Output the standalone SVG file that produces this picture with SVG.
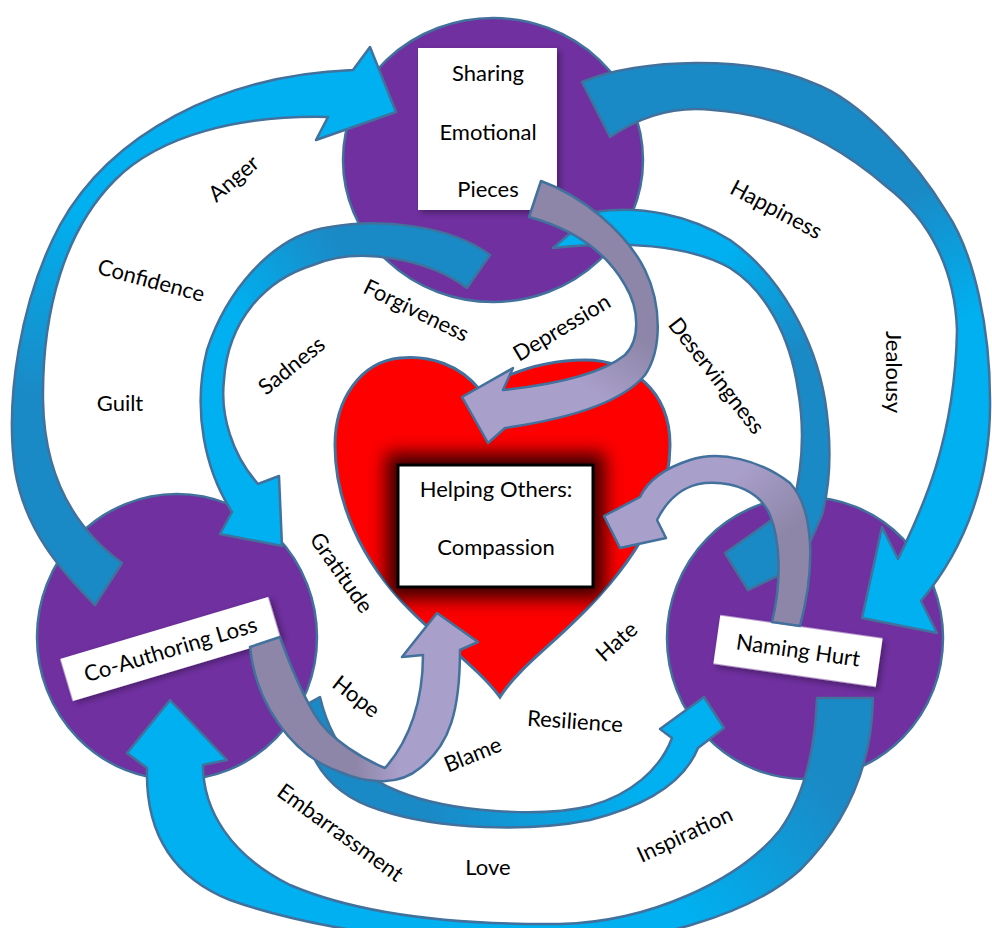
<svg xmlns="http://www.w3.org/2000/svg" width="992" height="928" viewBox="0 0 992 928">
  <defs>
    <style>
      .circ { fill: #7030A0; stroke: #41719C; stroke-width: 2.5; }
      .arw { stroke: #41719C; stroke-width: 2.5; stroke-linejoin: round; }
      .card { fill: #ffffff; }
      .t { font-family: Lato, "Liberation Sans", sans-serif; font-size: 22px; fill: #000000; text-anchor: middle; }
    </style>
    <!-- blue ribbon shading: darker back face near the tail, bright front face near the head -->
    <linearGradient id="gA" gradientUnits="userSpaceOnUse" x1="55" y1="400" x2="100" y2="215">
      <stop offset="0" stop-color="#1A8AC6"/><stop offset="1" stop-color="#00B0F0"/>
    </linearGradient>
    <linearGradient id="gB" gradientUnits="userSpaceOnUse" x1="900" y1="200" x2="965" y2="320">
      <stop offset="0" stop-color="#1A8AC6"/><stop offset="1" stop-color="#00B0F0"/>
    </linearGradient>
    <linearGradient id="gC" gradientUnits="userSpaceOnUse" x1="330" y1="232" x2="232" y2="305">
      <stop offset="0" stop-color="#1A8AC6"/><stop offset="1" stop-color="#00B0F0"/>
    </linearGradient>
    <linearGradient id="gD" gradientUnits="userSpaceOnUse" x1="730" y1="250" x2="805" y2="345">
      <stop offset="0" stop-color="#00B0F0"/><stop offset="1" stop-color="#1A8AC6"/>
    </linearGradient>
    <linearGradient id="gE" gradientUnits="userSpaceOnUse" x1="430" y1="815" x2="640" y2="790">
      <stop offset="0" stop-color="#1A8AC6"/><stop offset="1" stop-color="#00B0F0"/>
    </linearGradient>
    <linearGradient id="gF" gradientUnits="userSpaceOnUse" x1="830" y1="790" x2="690" y2="915">
      <stop offset="0" stop-color="#1A8AC6"/><stop offset="1" stop-color="#00B0F0"/>
    </linearGradient>
    <!-- lilac ribbons -->
    <linearGradient id="lA" gradientUnits="userSpaceOnUse" x1="650" y1="345" x2="610" y2="405">
      <stop offset="0" stop-color="#8E86A8"/><stop offset="1" stop-color="#A99FCB"/>
    </linearGradient>
    <linearGradient id="lB" gradientUnits="userSpaceOnUse" x1="790" y1="530" x2="740" y2="470">
      <stop offset="0" stop-color="#8E86A8"/><stop offset="1" stop-color="#A99FCB"/>
    </linearGradient>
    <linearGradient id="lC" gradientUnits="userSpaceOnUse" x1="355" y1="0" x2="400" y2="0">
      <stop offset="0" stop-color="#8E86A8"/><stop offset="1" stop-color="#A99FCB"/>
    </linearGradient>
    <filter id="shadow" x="-20%" y="-20%" width="140%" height="160%">
      <feDropShadow dx="3" dy="3" stdDeviation="3" flood-color="#000000" flood-opacity="0.35"/>
    </filter>
    <filter id="glow" x="-40%" y="-40%" width="180%" height="180%">
      <feGaussianBlur stdDeviation="9"/>
    </filter>
    <path id="heartShape" d="M 480 390 C 460 365, 430 355, 400 358 C 360 362, 335 400, 335 445 C 335 500, 360 560, 410 610 C 445 645, 480 670, 500 697 C 520 665, 560 640, 600 595 C 645 545, 670 495, 670 445 C 670 390, 630 360, 585 360 C 540 360, 505 375, 480 390 Z"/>
    <clipPath id="heartClip"><use href="#heartShape"/></clipPath>
  </defs>

  <!-- centre: heart with the compassion card -->
  <g id="node-helping-others">
    <use href="#heartShape" fill="#FF0000" stroke="#41719C" stroke-width="3"/>
    <g clip-path="url(#heartClip)">
      <rect x="386" y="453" width="219" height="146" fill="#3C0000" filter="url(#glow)"/>
    </g>
    <rect x="398" y="465" width="195" height="122" class="card" stroke="#000000" stroke-width="3"/>
    <text class="t" x="496" y="497">Helping Others:</text>
    <text class="t" x="496" y="555">Compassion</text>
  </g>

  <!-- top node -->
  <g id="node-sharing">
    <ellipse class="circ" cx="493" cy="160" rx="150" ry="142"/>
    <rect x="418" y="48" width="139" height="162" class="card" filter="url(#shadow)"/>
    <text class="t" x="488" y="81">Sharing</text>
    <text class="t" x="488" y="140">Emotional</text>
    <text class="t" x="488" y="197">Pieces</text>
  </g>

  <!-- lower left node -->
  <g id="node-co-authoring">
    <ellipse class="circ" cx="177" cy="637" rx="140" ry="143"/>
    <g transform="translate(170.5 649) rotate(-16.6)">
      <rect x="-108.5" y="-22" width="217" height="44" class="card" filter="url(#shadow)"/>
      <text class="t" x="0" y="8">Co-Authoring Loss</text>
    </g>
  </g>

  <!-- lower right node -->
  <g id="node-naming-hurt">
    <ellipse class="circ" cx="805" cy="638" rx="138" ry="141"/>
    <g transform="translate(798 651) rotate(8.1)">
      <rect x="-82" y="-24.5" width="164" height="49" class="card" filter="url(#shadow)"/>
      <text class="t" x="0" y="7">Naming Hurt</text>
    </g>
  </g>

  <g id="connectors">
    <!-- outer left: Co-Authoring Loss to Sharing -->
    <path class="arw" fill="url(#gA)" d="M 95 605 C 60 570, 25 530, 15 470 C 5 400, 20 300, 60 225 C 110 135, 220 75, 353 70 L 370 47 L 396 112 L 316 140 L 328 117 C 240 115, 160 135, 115 180 C 65 230, 42 310, 43 400 C 44 470, 70 525, 122 563 Z"/>
    <!-- outer right: Sharing to Naming Hurt -->
    <path class="arw" fill="url(#gB)" d="M 582 82 C 640 58, 750 55, 813 83 C 860 100, 915 160, 947 213 C 975 255, 990 330, 990 400 C 991 475, 968 545, 921 601 L 937 633 L 862 618 L 882 527 L 898 559 C 922 510, 955 440, 957 330 C 955 270, 930 220, 887 187 C 850 155, 790 115, 713 110 C 670 105, 635 120, 610 137 Z"/>
    <!-- inner left: Sharing to Co-Authoring Loss -->
    <path class="arw" fill="url(#gC)" d="M 490 255 C 450 225, 380 218, 330 227 C 270 235, 225 295, 207 350 C 192 410, 205 470, 232 512 L 220 534 L 282 546 L 279 476 L 258 484 C 232 455, 220 415, 224 380 C 228 320, 265 280, 313 265 C 360 245, 430 260, 467 288 Z"/>
    <!-- inner right: Sharing to Naming Hurt -->
    <path class="arw" fill="url(#gD)" d="M 595 212 C 640 205, 690 215, 730 240 C 780 275, 815 340, 825 400 C 832 445, 830 485, 822 515 L 800 565 L 748 590 L 725 553 L 793 505 C 802 470, 805 430, 798 390 C 790 335, 765 290, 730 268 C 690 245, 620 240, 553 248 Z"/>
    <!-- bottom inner: Co-Authoring Loss to Naming Hurt -->
    <path class="arw" fill="url(#gE)" d="M 320 697 C 330 740, 355 775, 400 792 C 450 812, 540 818, 590 806 C 630 795, 660 770, 672 738 L 660 729 L 704 697 L 724 728 L 698 748 C 685 780, 650 805, 590 820 C 530 832, 440 830, 380 810 C 330 795, 305 760, 300 708 Z"/>
    <!-- bottom outer: Naming Hurt to Co-Authoring Loss -->
    <path class="arw" fill="url(#gF)" d="M 817 698 L 873 698 C 872 760, 850 820, 800 870 C 750 915, 650 945, 540 946 C 420 946, 300 925, 230 900 C 180 880, 145 840, 147 768 L 127 753 L 170 700 L 227 760 L 203 765 C 203 810, 230 855, 290 885 C 360 915, 460 925, 560 924 C 650 922, 740 880, 780 830 C 805 795, 815 750, 817 698 Z"/>
    <!-- lilac: Sharing to the heart -->
    <path class="arw" fill="url(#lA)" d="M 541 181 C 580 195, 625 230, 645 270 C 662 305, 662 350, 645 375 C 620 405, 560 420, 505 428 L 488 443 L 462 397 L 513 368 L 503 390 C 550 385, 600 375, 625 355 C 640 340, 640 310, 625 285 C 605 250, 570 228, 529 217 Z"/>
    <!-- lilac: Naming Hurt to the heart -->
    <path class="arw" fill="url(#lB)" d="M 800 626 C 815 570, 815 510, 790 483 C 760 460, 720 450, 690 460 C 665 468, 648 480, 640 497 L 604 516 L 620 548 L 666 538 L 657 520 C 668 498, 685 485, 705 483 C 735 481, 760 492, 770 515 C 780 540, 782 580, 772 622 Z"/>
    <!-- lilac: Co-Authoring Loss to the heart -->
    <path class="arw" fill="url(#lC)" d="M 280 637 L 250 647 C 255 700, 290 755, 340 772 C 370 785, 400 785, 420 768 C 450 745, 460 710, 460 650 L 478 642 L 437 613 L 402 657 L 423 655 C 423 700, 410 740, 385 768 C 365 760, 330 740, 315 715 C 300 690, 290 665, 280 637 Z"/>
  </g>

  <g id="labels">
    <text class="t" transform="translate(234 179) rotate(-40)" y="7">Anger</text>
    <text class="t" transform="translate(151 281) rotate(15)" y="7">Confidence</text>
    <text class="t" transform="translate(120 404)" y="7">Guilt</text>
    <text class="t" transform="translate(292 366) rotate(-39)" y="7">Sadness</text>
    <text class="t" transform="translate(416 311) rotate(26)" y="7">Forgiveness</text>
    <text class="t" transform="translate(562 328) rotate(-31)" y="7">Depression</text>
    <text class="t" transform="translate(716 376) rotate(52)" y="7">Deservingness</text>
    <text class="t" transform="translate(776 210) rotate(28)" y="7">Happiness</text>
    <text class="t" transform="translate(893 372) rotate(90)" y="7">Jealousy</text>
    <text class="t" transform="translate(341 573) rotate(55)" y="7">Gratitude</text>
    <text class="t" transform="translate(356 697) rotate(38)" y="7">Hope</text>
    <text class="t" transform="translate(340 833) rotate(36)" y="7">Embarrassment</text>
    <text class="t" transform="translate(473 755) rotate(-22)" y="7">Blame</text>
    <text class="t" transform="translate(488 868)" y="7">Love</text>
    <text class="t" transform="translate(575 722) rotate(4)" y="7">Resilience</text>
    <text class="t" transform="translate(617 642) rotate(-42)" y="7">Hate</text>
    <text class="t" transform="translate(685 835) rotate(-25)" y="7">Inspiration</text>
  </g>
</svg>
